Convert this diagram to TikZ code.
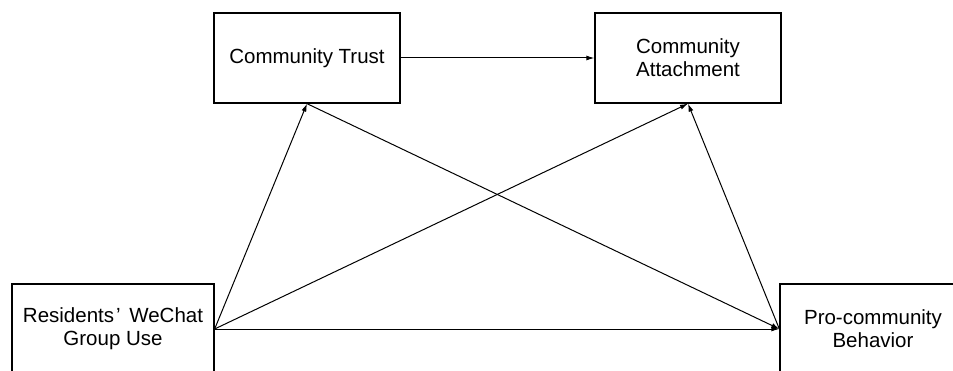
\documentclass[tikz,border=0pt]{standalone}
\usepackage{fontspec}
\setmainfont{Liberation Sans}
\usetikzlibrary{arrows.meta}
\tikzset{
  varbox/.style={draw, line width=1.3pt, minimum width=186pt, minimum height=90pt,
    align=center, inner sep=0pt, font=\fontsize{20.5}{23}\selectfont},
  path/.style={line width=1pt, -{Latex[length=8pt,width=5pt]}}
}
\begin{document}
\begin{tikzpicture}[x=1pt,y=1pt]
      \useasboundingbox (0,0) rectangle (953,370);
      \node[varbox, minimum width=202pt] (use) at (113,41) {Residents\hspace{2pt}’\hspace{3pt} WeChat\\Group Use};
      \node[varbox] (trust) at (307,312) {Community Trust};
      \node[varbox] (attach) at (688,312) {Community\\Attachment};
      \node[varbox] (behav) at (873,41) {Pro-community\\Behavior};
      \draw[path] (trust) -- (attach);
      \draw[path] (use.east) -- (trust.south);
      \draw[path] (use.east) -- (attach.south);
      \draw[path] (use.east) -- (behav.west);
      \draw[path] (trust.south) -- (behav.west);
      \draw[path] (behav.west) -- (attach.south);
    \end{tikzpicture}
\end{document}
